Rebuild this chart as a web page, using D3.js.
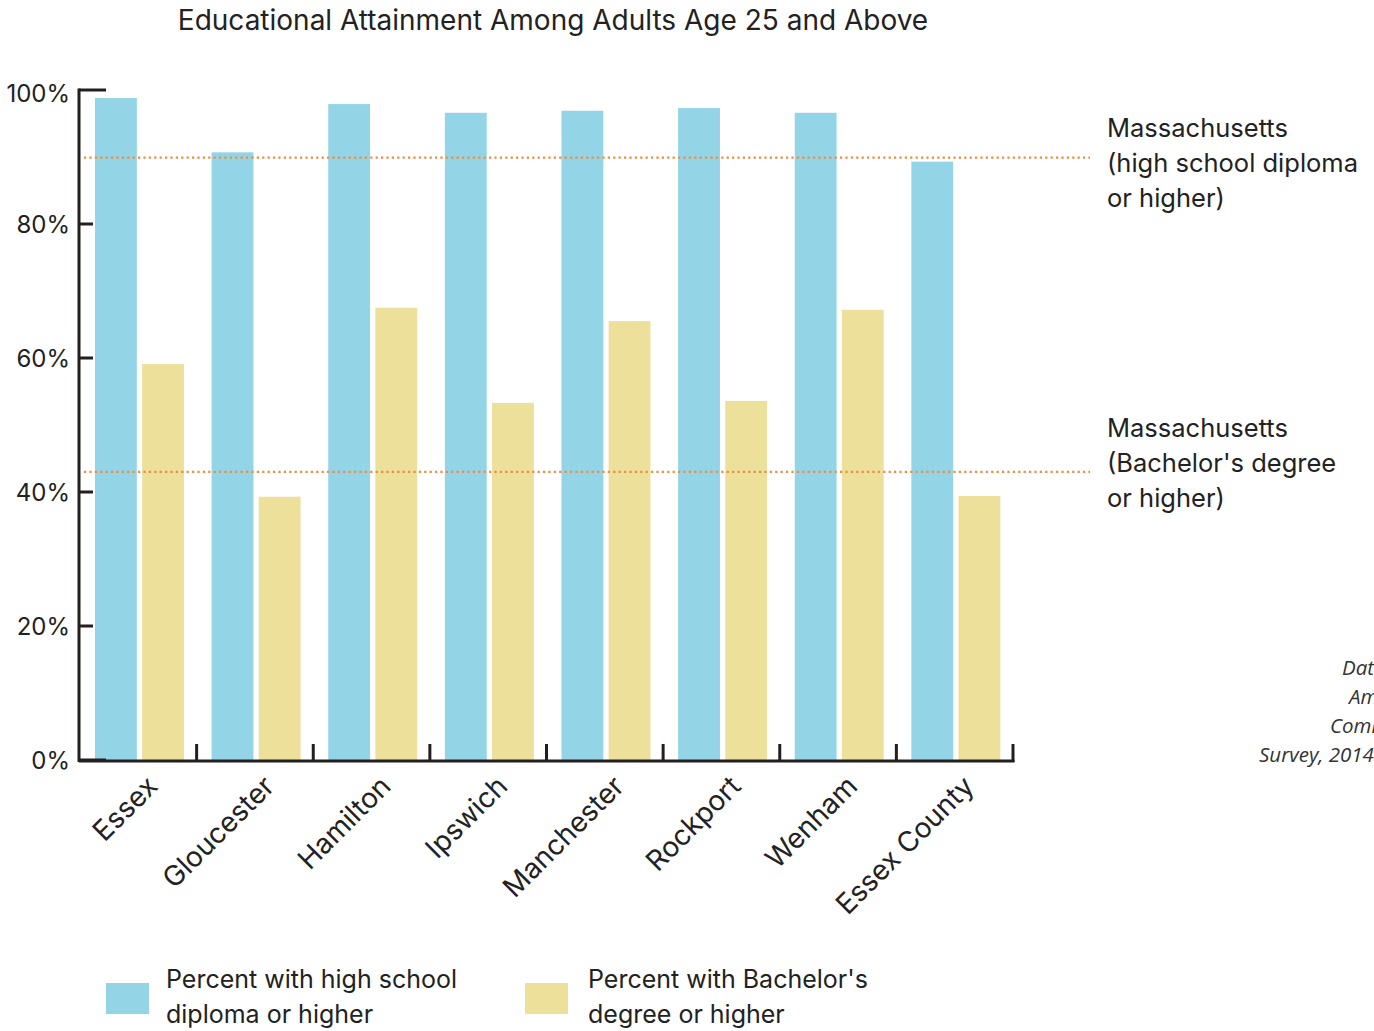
<!DOCTYPE html>
<html>
<head>
<meta charset="utf-8">
<script src="https://cdn.jsdelivr.net/npm/d3@7"></script>
<style>
  html, body { margin: 0; padding: 0; background: #fff; overflow: hidden; }
  svg { display: block; }
  .lbl { font-family: Inter, "Open Sans", sans-serif; fill: #222; }
  .src { font-family: "Open Sans", sans-serif; font-style: italic; fill: #333; }
</style>
</head>
<body>
<script>
// Towns / county compared
const categories = ["Essex", "Gloucester", "Hamilton", "Ipswich", "Manchester", "Rockport", "Wenham", "Essex County"];
// Percent of adults 25+ with a high school diploma or higher
const highSchool = [98.8, 90.7, 97.9, 96.6, 96.9, 97.3, 96.6, 89.3];
// Percent of adults 25+ with a Bachelor's degree or higher
const bachelors = [59.1, 39.3, 67.5, 53.3, 65.5, 53.6, 67.2, 39.4];
// Statewide reference values
const stateValues = [89.9, 43.0];
const stateLabels = [
  ["Massachusetts", "(high school diploma", "or higher)"],
  ["Massachusetts", "(Bachelor's degree", "or higher)"]
];
const yTicks = [0, 20, 40, 60, 80, 100];
const legendLines = [["Percent with high school", "diploma or higher"], ["Percent with Bachelor's", "degree or higher"]];
const sourceLines = ["Data:", "American", "Community", "Survey, 2014"];

const W = 1374, H = 1031;
const colors = ["#93d5e7", "#ece09b"];
const axisColor = "#231f20";

const svg = d3.select("body").append("svg").attr("width", W).attr("height", H);

const x = d3.scaleBand().domain(categories).range([79, 1012]);
const xs = d3.scaleBand().domain(["hs", "ba"])
  .range([x.bandwidth() * 0.137, x.bandwidth() * 0.9]).paddingInner(0.112);
const y = d3.scaleLinear().domain([0, 100]).range([760, 90]);

// Title
svg.append("text").attr("class", "lbl")
  .attr("x", 553).attr("y", 30).attr("text-anchor", "middle")
  .style("font-size", "28px")
  .text("Educational Attainment Among Adults Age 25 and Above");

// Bars
const rows = categories.map((c, i) => ({ c, hs: highSchool[i], ba: bachelors[i] }));
const grp = svg.append("g").selectAll("g.grp").data(rows).join("g")
  .attr("transform", d => `translate(${x(d.c)},0)`);
grp.selectAll("rect").data(d => [["hs", d.hs], ["ba", d.ba]]).join("rect")
  .attr("x", d => xs(d[0]))
  .attr("width", xs.bandwidth())
  .attr("y", d => y(d[1]))
  .attr("height", d => y(0) - y(d[1]))
  .attr("fill", (d, i) => colors[i]);

// State reference lines and their labels
const labelTop = [137, 437];
stateValues.forEach((v, i) => {
  svg.append("line")
    .attr("x1", 84).attr("x2", 1090)
    .attr("y1", y(v)).attr("y2", y(v))
    .attr("stroke", "#f08a3c").attr("stroke-width", 2.2)
    .attr("stroke-dasharray", "2.2 3.2");
  const t = svg.append("text").attr("class", "lbl").style("font-size", "25.5px");
  stateLabels[i].forEach((ln, k) => {
    t.append("tspan").attr("x", 1107).attr("y", labelTop[i] + k * 35).text(ln);
  });
});

// Y axis
const yAxis = svg.append("g");
yAxis.append("line").attr("x1", 79).attr("x2", 79).attr("y1", 88.5).attr("y2", 762)
  .attr("stroke", axisColor).attr("stroke-width", 3);
yTicks.forEach(v => {
  const long = v === 100 || v === 0;
  yAxis.append("line").attr("x1", 79).attr("x2", long ? 106 : 93)
    .attr("y1", y(v)).attr("y2", y(v))
    .attr("stroke", axisColor).attr("stroke-width", 3);
  yAxis.append("text").attr("class", "lbl")
    .attr("x", 70).attr("y", y(v) + (v === 100 ? 12 : 9)).attr("text-anchor", "end")
    .style("font-size", "24px").text(v + "%");
});

// X axis baseline and group separators
const xAxis = svg.append("g");
xAxis.append("line").attr("x1", 79).attr("x2", 1014.5).attr("y1", 761).attr("y2", 761)
  .attr("stroke", axisColor).attr("stroke-width", 3);
categories.forEach(c => {
  const xe = x(c) + x.bandwidth() + 1;
  xAxis.append("line").attr("x1", xe).attr("x2", xe).attr("y1", 744).attr("y2", 762)
    .attr("stroke", axisColor).attr("stroke-width", 3);
});
categories.forEach(c => {
  const cx = x(c) + x.bandwidth() / 2 + 22;
  xAxis.append("text").attr("class", "lbl")
    .attr("transform", `translate(${cx},788) rotate(-45)`)
    .attr("text-anchor", "end")
    .style("font-size", "28px").text(c);
});

// Source note (runs past the right edge)
sourceLines.forEach((ln, k) => {
  svg.append("text").attr("class", "src")
    .attr("x", [1342, 1349, 1330, 1259][k]).attr("y", 675 + k * 29)
    .style("font-size", "20.5px").text(ln);
});

// Legend
const lx = [106, 525], tx = [166, 588];
legendLines.forEach((lines, i) => {
  svg.append("rect").attr("x", lx[i]).attr("y", 983).attr("width", 43).attr("height", 31)
    .attr("fill", colors[i]);
  const t = svg.append("text").attr("class", "lbl").style("font-size", "25px");
  lines.forEach((ln, k) => t.append("tspan").attr("x", tx[i]).attr("y", 988 + k * 35).text(ln));
});
</script>
</body>
</html>
